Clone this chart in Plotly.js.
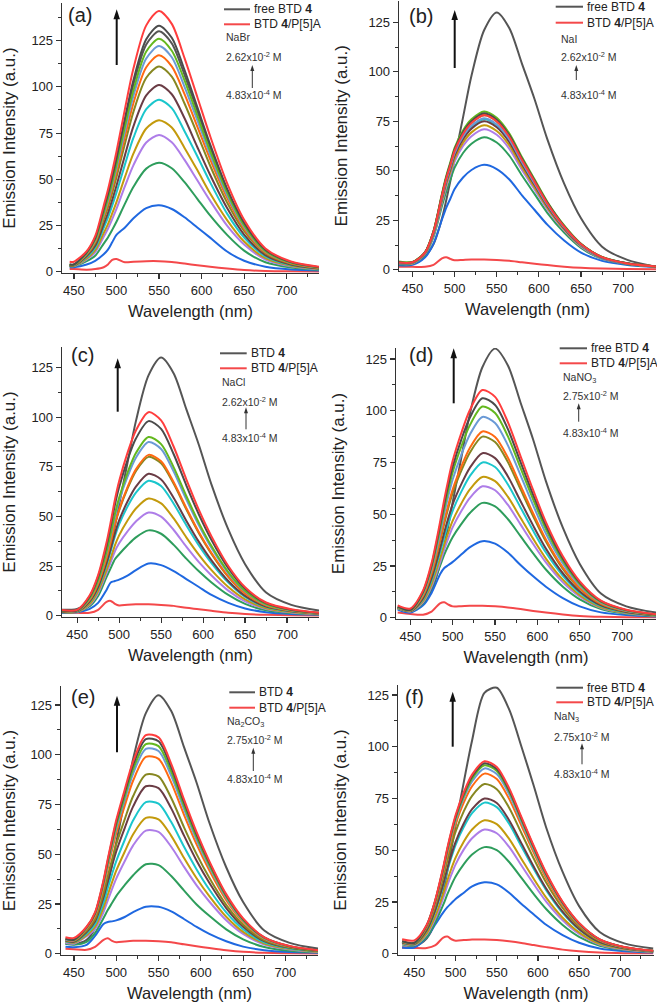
<!DOCTYPE html>
<html><head><meta charset="utf-8">
<script src="https://cdn.plot.ly/plotly-3.0.1.min.js"></script>
<style>html,body{margin:0;padding:0;background:#fff}#chart{width:657px;height:1003px}</style>
</head><body><div id="chart"></div>
<script>
// ---------------- DATA ----------------
// wavelength grids (nm)
const wlA = [445,450,465,475,485,490,495,500,510,520,535,550,565,580,595,610,630,650,675,705,740];
const wlB = [430,450,465,475,485,490,495,500,510,520,535,550,565,580,595,610,630,650,675,705,740];
const wlC = [430,450,465,475,485,490,495,500,510,520,535,550,565,580,595,610,630,650,675,705,740];
const wlD = [435,450,465,475,485,490,495,500,510,520,535,550,565,580,595,610,630,650,675,705,740];
const wlE = [440,450,465,475,485,490,495,500,510,520,535,550,565,580,595,610,630,650,675,705,740];
const wlF = [435,450,465,475,485,490,495,500,510,520,535,550,565,580,595,610,630,650,675,705,740];

// (a) NaBr
const a_p5a   = [1.5,1.5,1.2,1.5,2.5,4,6.5,7,5.2,5.5,5.8,5.8,5.3,4.5,3.6,2.8,1.8,1,0.5,0.3,0.2];
const a_blue  = [2.5,2.5,4,6,9.5,12,16,20,24,29,34.5,36,34,29.5,24,18.5,11,6,2.8,1.3,0.7];
const a_green = [3,3,5.8,8.7,15.3,18.6,22.7,27.1,36.9,46,55.8,59,56,48.5,39.5,30.5,20,11.5,5.2,2.4,1.1];
const a_purple= [3.2,3.2,6.8,10.6,19,23.3,28.5,34,46.3,57.7,69.9,74,70,60.5,49.5,38.5,25,14.8,6.7,3,1.3];
const a_gold  = [3.3,3.3,7.3,11.7,21,25.8,31.6,37.7,51.3,64,77.5,82,78,67,55,42.5,28,16.4,7.4,3.3,1.5];
const a_cyan  = [3.4,3.4,8,13.1,23.8,29.3,35.8,42.8,58.1,72.5,87.9,93,88.5,76,62.5,48.5,31.5,18.6,8.4,3.7,1.7];
const a_brown = [3.5,3.5,8.6,14.1,25.8,31.8,38.9,46.5,63.1,78.8,95.4,101,96,83,67.5,52.5,34.5,20.2,9.1,4,1.8];
const a_olive = [3.6,3.6,9.2,15.4,28.3,35,42.7,51.1,69.4,86.6,104.9,111,105.5,91,74.5,57.5,37.5,22.2,10,4.4,2];
const a_orange= [3.7,3.7,9.6,16.2,29.8,36.9,45,53.8,73.1,91.3,110.6,117,111,96,78.5,61,40,23.4,10.5,4.7,2.1];
const a_lblue = [3.8,3.8,9.9,16.9,31,38.4,47,56.1,76.3,95.2,115.3,122,116,100,82,63.5,41.5,24.4,11,4.9,2.2];
const a_lime  = [3.9,3.9,10.2,17.4,32,39.7,48.5,58,78.8,98.3,119.1,126,119.5,103.5,84.5,65.5,43,25.2,11.3,5,2.3];
const a_dgray = [4,4,10.6,18.3,33.8,41.9,51.2,61.2,83.1,103.7,125.7,133,126.5,109,89,69,45,26.6,12,5.3,2.4];
const a_red   = [5.5,5.5,11.2,19.3,35.8,44.4,54.3,64.9,88.1,110,133.2,141,134,115.5,94.5,73.5,48,28.2,12.7,5.6,2.6];
const a_free  = [4,4,10.5,17.9,33,41,50,59.8,81.3,101.4,122.9,130,123.5,106.5,87,67.5,44,26,11.7,5.2,2.4];

// (b) NaI
const b_p5a   = [1.5,1.5,1.5,2.5,5.8,6.4,5.5,4.8,5,5.2,5.2,5,4.6,3.8,3.1,2.4,1.6,1,0.6,0.4,0.3];
const b_blue  = [2.5,2.5,6.3,13.2,25.4,31.3,36,40.8,46.6,50.4,53,50.9,45.6,37.6,30.2,22.8,14.8,8.7,4.5,2.4,1.3];
const b_green = [3,3,7.7,16.6,32.2,39.5,45.6,51.6,59,63.7,67,64.3,57.6,47.6,38.2,28.8,18.8,11.1,5.5,2.8,1.5];
const b_purple= [3.2,3.2,8.1,17.5,34.1,41.9,48.3,54.7,62.5,67.5,71,68.2,61.1,50.4,40.5,30.5,19.9,11.7,5.8,3,1.6];
const b_gold  = [3.3,3.3,8.3,18,35,43.1,49.6,56.2,64.2,69.4,73,70.1,62.8,51.8,41.6,31.4,20.4,12,6,3.1,1.6];
const b_cyan  = [3.5,3.5,8.6,18.7,36.5,44.8,51.7,58.5,66.9,72.2,76,73,65.4,54,43.3,32.7,21.3,12.5,6.2,3.2,1.6];
const b_brown = [3.5,3.5,8.5,18.5,36,44.3,51,57.8,66,71.3,75,72,64.5,53.3,42.8,32.3,21,12.4,6.1,3.1,1.6];
const b_olive = [3.8,3.8,8.8,19.2,37.4,46,53,60,68.6,74.1,78,74.9,67.1,55.4,44.5,33.5,21.8,12.9,6.4,3.2,1.7];
const b_orange= [3.8,3.8,8.9,19.3,37.7,46.3,53.4,60.4,69.1,74.6,78.5,75.4,67.5,55.7,44.7,33.8,22,13,6.4,3.2,1.7];
const b_lblue = [3.6,3.6,8.7,18.9,36.7,45.1,52,58.9,67.3,72.7,76.5,73.4,65.8,54.3,43.6,32.9,21.4,12.6,6.2,3.2,1.6];
const b_lime  = [4.5,4,9,19.7,38.4,47.2,54.4,61.6,70.4,76,80,76.8,68.8,56.8,45.6,34.4,22.4,13.2,6.5,3.3,1.7];
const b_dgray = [4,3.8,8.9,19.5,37.9,46.6,53.7,60.8,69.5,75,79,75.8,67.9,56.1,45,34,22.1,13,6.4,3.3,1.7];
const b_red   = [3.8,3.8,8.8,19.2,37.4,46,53,60.1,68.6,74.1,78,74.9,67.1,55.4,44.5,33.5,21.8,12.9,6.4,3.2,1.7];
const b_free  = [3.5,3.8,7,13,26,35,45,56,77,98,121,130,122,104,86,66,43.5,26,11.7,5,1.5];

// (c) NaCl
const c_p5a   = [1.7,1.5,1.5,3,7,7.5,6,5.2,5.6,5.8,5.8,5.5,5,4,3.3,2.5,1.5,0.9,0.5,0.3,0.2];
const c_blue  = [1.5,1.8,3.5,6.5,13,16.8,17.5,18.2,20.2,23,26.3,25.5,22.5,18.5,14.5,10.5,6.5,3.7,1.8,0.9,0.5];
const c_green = [1.8,2,4.8,10,19.5,24,28.5,31,35.5,39.5,43,41.3,35.7,28.8,22.4,16.8,10.5,6,2.8,1.4,0.6];
const c_purple= [2,2,5.5,11.5,21.5,27,32.5,36.5,42.5,47.5,52,49.9,43.2,34.8,27,20.3,12.7,7.3,3.4,1.7,0.7];
const c_gold  = [2,2,6,12.5,23,29,35.5,40.5,48,54,59,56.6,49,39.5,30.7,23,14.5,8.3,3.8,1.9,0.8];
const c_cyan  = [2.2,2.2,7,14,25.5,32.5,40,46,55,62,68,65.3,56.4,45.6,35.4,26.5,16.7,9.5,4.4,2.2,1];
const c_brown = [2.3,2.3,7.3,14.5,26.5,33.8,41.5,48,57.5,65,71.5,68.6,59.3,47.9,37.2,27.9,17.5,10,4.6,2.3,1];
const c_olive = [2.5,2.5,8,16,29,37,46,53,64,72.8,80,76.8,66.4,53.6,41.6,31.2,19.6,11.2,5.2,2.6,1.1];
const c_orange= [2.5,2.5,8.1,16.2,29.2,37.3,46.2,53.5,64.8,73.7,81,77.8,67.2,54.3,42.1,31.6,19.8,11.3,5.3,2.6,1.1];
const c_lblue = [2.6,2.6,8.8,17.5,31.5,40.3,49.9,57.8,70,79.6,87.5,84,72.6,58.6,45.5,34.1,21.4,12.3,5.7,2.8,1.2];
const c_lime  = [2.7,2.7,9,18,32.4,41.4,51.3,59.4,72,81.9,90,86.4,74.7,60.3,46.8,35.1,22,12.6,5.9,2.9,1.3];
const c_dgray = [2.8,2.8,9.8,19.6,35.3,45.1,55.9,64.7,78.4,89.2,98,94.1,81.3,65.7,51,38.2,24,13.7,6.4,3.1,1.4];
const c_red   = [3,3,10.3,20.5,36.9,47.2,58.4,67.7,82,93.3,102.5,98.4,85.1,68.7,53.3,40,25.1,14.4,6.7,3.3,1.4];
const c_free  = [3,3.5,7,13,26,35,45,56,77,98,121,130,122,104,86,66,43.5,26,11.7,5.5,2.5];

// (d) NaNO3
const d_p5a   = [2.5,1.8,1.5,3,7,7.5,6.3,5.5,5.6,5.8,5.8,5.5,5,4.2,3.3,2.5,1.6,0.9,0.5,0.3,0.2];
const d_blue  = [4,2.5,6,12,21,24,25.5,27,30.5,34,37,35.8,31.5,25.5,20,15,9.5,5.5,2.6,1.3,0.6];
const d_green = [4.5,3,7,14.5,25,30.5,35,39,45.2,50.5,55.5,53.8,47.7,39.4,31.1,23.3,15,8.9,4.2,1.9,0.8];
const d_purple= [4.5,3,7.6,15.2,26.7,33,38.7,43.8,51.4,57.8,63.5,61.6,54.6,45.1,35.6,26.7,17.1,10.2,4.8,2.2,1];
const d_gold  = [4.7,3.2,8.2,16.3,28.6,35.4,41.5,46.9,55.1,61.9,68,66,58.5,48.3,38.1,28.6,18.4,10.9,5.1,2.4,1];
const d_cyan  = [4.8,3.3,9,18,31.5,39,45.8,51.8,60.8,68.3,75,72.8,64.5,53.3,42,31.5,20.3,12,5.6,2.6,1.1];
const d_brown = [4.9,3.3,9.5,19.1,33.4,41.3,48.5,54.9,64.4,72.3,79.5,77.1,68.4,56.4,44.5,33.4,21.5,12.7,6,2.8,1.2];
const d_olive = [5,3.4,10.5,21,36.8,45.5,53.4,60.4,70.9,79.6,87.5,84.9,75.3,62.1,49,36.8,23.6,14,6.6,3.1,1.3];
const d_orange= [5,3.5,10.8,21.6,37.8,46.8,54.9,62.1,72.9,81.9,90,87.3,77.4,63.9,50.4,37.8,24.3,14.4,6.8,3.2,1.4];
const d_lblue = [5.2,3.6,11.6,23.3,40.7,50.4,59.2,66.9,78.6,88.3,97,94.1,83.4,68.9,54.3,40.7,26.2,15.5,7.3,3.4,1.5];
const d_lime  = [5.3,3.7,12.2,24.5,42.8,53,62.2,70.4,82.6,92.8,102,98.9,87.7,72.4,57.1,42.8,27.5,16.3,7.7,3.6,1.5];
const d_dgray = [5.4,3.8,12.7,25.4,44.5,55.1,64.7,73.1,85.9,96.5,106,102.8,91.2,75.3,59.4,44.5,28.6,17,8,3.7,1.6];
const d_red   = [6,4.5,13.2,26.4,46.2,57.2,67.1,75.9,89.1,100.1,110,106.7,94.6,78.1,61.6,46.2,29.7,17.6,8.3,3.9,1.7];
const d_free  = [4.5,3.5,7,13,26,35,45,56,77,98,121,130,122,104,86,66,43.5,26,11.7,5.5,2.5];

// (e) Na2CO3
const e_p5a   = [2.5,2.3,2,3.5,7,7.8,6.5,5.8,6.2,6.5,6.5,6.3,5.8,4.8,3.8,2.9,1.8,1,0.5,0.3,0.2];
const e_blue  = [3.5,3.3,4.5,9,15,16,16.3,16.8,18.5,21,23.7,23.6,21.3,17.5,13.5,10,6.3,3.6,1.8,0.9,0.5];
const e_green = [5,4.6,6,10.5,18,22,25.5,29,34.5,39.5,45,44.6,39.1,31.9,24.8,19.1,12.3,7.3,3.4,1.5,0.7];
const e_purple= [5.5,5.1,8.8,12.5,21,26.9,32.5,37.8,46.5,54.5,61.9,61.3,53.8,43.8,34.4,26.3,16.9,10,4.7,2.2,0.9];
const e_gold  = [6,5.6,9.4,13.6,23.2,29.7,35.9,41.8,51.3,60.1,68.3,67.6,59.3,48.3,38,29,18.6,11,5.2,2.4,1];
const e_cyan  = [6.3,5.9,10.2,15,25.9,33.1,40,46.6,57.2,67.1,76.2,75.5,66.2,53.9,42.4,32.3,20.8,12.3,5.8,2.7,1.2];
const e_brown = [6.5,6.1,11,16.4,28.6,36.6,44.2,51.5,63.2,74.1,84.2,83.3,73.1,59.5,46.8,35.7,23,13.6,6.4,3,1.3];
const e_olive = [6.8,6.4,11.6,17.4,30.5,39.1,47.3,55.1,67.6,79.3,90.1,89.2,78.3,63.7,50.1,38.2,24.6,14.6,6.8,3.2,1.4];
const e_orange= [7,6.6,12.5,19,33.5,43,52,60.6,74.3,87.1,99,98,86,70,55,42,27,16,7.5,3.5,1.5];
const e_lblue = [7.2,6.8,12.9,19.7,34.8,44.7,54.1,63,77.3,90.6,103,101.9,89.4,72.8,57.2,43.7,28.1,16.6,7.8,3.6,1.6];
const e_lime  = [7.5,7,13.2,20.1,35.6,45.8,55.4,64.5,79.1,92.8,105.4,104.4,91.6,74.6,58.6,44.7,28.8,17,8,3.7,1.6];
const e_dgray = [7.6,7.1,13.4,20.5,36.5,46.9,56.7,66,81,95,107.9,106.8,93.7,76.3,60,45.8,29.4,17.4,8.2,3.8,1.6];
const e_red   = [8.3,8,13.6,20.9,37.1,47.7,57.7,67.2,82.5,96.7,109.9,108.8,95.5,77.7,61.1,46.6,30,17.8,8.3,3.9,1.7];
const e_free  = [5,4.8,7,13,26,35,45,56,77,98,121,130,122,104,86,66,43.5,26,11.7,5.5,2.5];

// (f) NaN3
const f_p5a   = [3,2.8,2.8,4,7.8,8.3,7,6.3,6.6,6.9,6.9,6.6,6,5.2,4.2,3.2,2,1.2,0.6,0.3,0.2];
const f_blue  = [3,3,8,14,20,22.5,24.5,26.5,29.5,32.5,34.5,33.5,29.5,24,19,14,9,5.3,2.5,1.2,0.6];
const f_green = [4.5,4,8.2,14.9,23.7,28.8,33.3,37.3,43.3,47.9,51.5,50,44.3,36.6,28.8,21.6,13.9,8.2,3.9,1.8,0.8];
const f_purple= [4.8,4.2,9.4,16.7,27,33,38.4,43.2,50.4,55.8,60,58.2,51.6,42.6,33.6,25.2,16.2,9.6,4.5,2.1,0.9];
const f_gold  = [5,4.4,10,17.9,29,35.5,41.3,46.4,54.2,60,64.5,62.6,55.5,45.8,36.1,27.1,17.4,10.3,4.8,2.3,1];
const f_cyan  = [5.3,4.6,11.2,20.2,32.9,40.2,46.7,52.6,61.3,67.9,73,70.8,62.8,51.8,40.9,30.7,19.7,11.7,5.5,2.6,1.1];
const f_brown = [5.4,4.7,11.5,20.8,33.8,41.3,48,54,63,69.8,75,72.8,64.5,53.3,42,31.5,20.3,12,5.6,2.6,1.1];
const f_olive = [5.6,4.9,12.5,22.6,36.9,45.1,52.5,59,68.9,76.3,82,79.5,70.5,58.2,45.9,34.4,22.1,13.1,6.2,2.9,1.2];
const f_orange= [5.8,5.1,13.2,24,39.2,47.9,55.7,62.6,73.1,80.9,87,84.4,74.8,61.8,48.7,36.5,23.5,13.9,6.5,3,1.3];
const f_lblue = [5.9,5.2,13.5,24.7,40.3,49.2,57.3,64.4,75.2,83.2,89.5,86.8,77,63.5,50.1,37.6,24.2,14.3,6.7,3.1,1.3];
const f_lime  = [6,5.3,13.7,25.1,41,50,58.2,65.5,76.4,84.6,91,88.3,78.3,64.6,51,38.2,24.6,14.6,6.8,3.2,1.4];
const f_dgray = [6,5.3,13.9,25.3,41.4,50.6,58.9,66.2,77.3,85.6,92,89.2,79.1,65.3,51.5,38.6,24.8,14.7,6.9,3.2,1.4];
const f_red   = [7,6.5,14,25.6,41.9,51.2,59.5,67,78.1,86.5,93,90.2,80,66,52.1,39.1,25.1,14.9,7,3.3,1.4];
const f_free  = [3,3.5,7.5,15,30,40,51,62,83,103,126,128.5,118,100,81,61,39.5,23,10.5,5,2.5];

// texts
const panelLabels = ['(a)','(b)','(c)','(d)','(e)','(f)'];
const saltNames = ['NaBr','NaI','NaCl','NaNO<sub>3</sub>','Na<sub>2</sub>CO<sub>3</sub>','NaN<sub>3</sub>'];
const highConc = ['2.62x10<sup>-2</sup> M','2.62x10<sup>-2</sup> M','2.62x10<sup>-2</sup> M','2.75x10<sup>-2</sup> M','2.75x10<sup>-2</sup> M','2.75x10<sup>-2</sup> M'];
const lowConc = '4.83x10<sup>-4</sup> M';
const freeNames = ['free BTD <b>4</b>','free BTD <b>4</b>','BTD <b>4</b>','free BTD <b>4</b>','BTD <b>4</b>','free BTD <b>4</b>'];
const complexName = 'BTD <b>4</b>/P[5]A';
const xTicks = [450,500,550,600,650,700];
const yTicks = [0,25,50,75,100,125];

// ---------------- STYLE / LAYOUT ----------------
const FONT = 'Liberation Sans, Arial, Helvetica, sans-serif';
const COLORS = {p5a:'#F4484A', blue:'#1F68E0', green:'#2E9D5C', purple:'#AE7DE8', gold:'#C39A0C',
  cyan:'#1BC6CC', brown:'#6A3C45', olive:'#878721', orange:'#FF6912', lblue:'#6B9AD6',
  lime:'#63B81E', dgray:'#4B4B4B', red:'#FF3D3D', free:'#555555'};
const ORDER = ['free','p5a','blue','green','purple','gold','cyan','brown','olive','orange','lblue','lime','dgray','red'];

const seriesSets = [
 {wl:wlA, p5a:a_p5a, blue:a_blue, green:a_green, purple:a_purple, gold:a_gold, cyan:a_cyan, brown:a_brown, olive:a_olive, orange:a_orange, lblue:a_lblue, lime:a_lime, dgray:a_dgray, red:a_red, free:a_free},
 {wl:wlB, p5a:b_p5a, blue:b_blue, green:b_green, purple:b_purple, gold:b_gold, cyan:b_cyan, brown:b_brown, olive:b_olive, orange:b_orange, lblue:b_lblue, lime:b_lime, dgray:b_dgray, red:b_red, free:b_free},
 {wl:wlC, p5a:c_p5a, blue:c_blue, green:c_green, purple:c_purple, gold:c_gold, cyan:c_cyan, brown:c_brown, olive:c_olive, orange:c_orange, lblue:c_lblue, lime:c_lime, dgray:c_dgray, red:c_red, free:c_free},
 {wl:wlD, p5a:d_p5a, blue:d_blue, green:d_green, purple:d_purple, gold:d_gold, cyan:d_cyan, brown:d_brown, olive:d_olive, orange:d_orange, lblue:d_lblue, lime:d_lime, dgray:d_dgray, red:d_red, free:d_free},
 {wl:wlE, p5a:e_p5a, blue:e_blue, green:e_green, purple:e_purple, gold:e_gold, cyan:e_cyan, brown:e_brown, olive:e_olive, orange:e_orange, lblue:e_lblue, lime:e_lime, dgray:e_dgray, red:e_red, free:e_free},
 {wl:wlF, p5a:f_p5a, blue:f_blue, green:f_green, purple:f_purple, gold:f_gold, cyan:f_cyan, brown:f_brown, olive:f_olive, orange:f_orange, lblue:f_lblue, lime:f_lime, dgray:f_dgray, red:f_red, free:f_free}
];

// pixel geometry of each panel
const W = 657, H = 1003;
const fx = p => p / W, fy = p => 1 - p / H;
const geom = [
 {x0:62, x1:319, y0:3,   y1:273, xr:[436,738], yr:[-0.6,145.3], so:11, lab:[80,15],  arr:[116.7,65,9.3],  leg:[224,250,9.3,24.3],   txt:[224,37.3,56,94.3],   sarr:[252.3,88,65]},
 {x0:399,x1:656, y0:0.5, y1:271, xr:[434,739], yr:[-0.6,136],   so:16, lab:[420.7,16], arr:[454.7,68,10], leg:[555.7,583,6.7,22.7], txt:[558.7,39.3,56.7,94.3], sarr:[576.3,80,65]},
 {x0:62, x1:319, y0:347, y1:617, xr:[432,738], yr:[-0.6,135.3], so:11, lab:[82.7,355], arr:[117.7,411.7,358.3], leg:[220,246.7,353.3,368.3], txt:[220,381.7,401,437.7], sarr:[246,429.3,407.3]},
 {x0:396,x1:656, y0:348, y1:619, xr:[433,740], yr:[-0.6,130.3], so:16, lab:[421.3,355], arr:[453.7,403.3,348.3], leg:[559.7,587,348.3,363.3], txt:[561.3,377.7,395,432.7], sarr:[578.7,421.7,403.3]},
 {x0:61, x1:318, y0:686, y1:955, xr:[434.7,738.5], yr:[-0.6,134.6], so:11, lab:[83.3,696.7], arr:[117,752.3,695.7], leg:[229.3,255,692.3,707.7], txt:[225,721.7,739.3,778.3], sarr:[253.3,771,747.7]},
 {x0:398,x1:654, y0:685, y1:955, xr:[430,741], yr:[-0.6,129.8], so:16, lab:[414,696.7], arr:[452.7,746.7,691.7], leg:[556.3,583,687.7,702.3], txt:[552,717.3,736.7,773.3], sarr:[582,764.3,743.3]}
];

const traces = [];
const layout = {
  width: W, height: H, margin:{l:0,r:0,t:0,b:0},
  paper_bgcolor:'#fff', plot_bgcolor:'#fff', showlegend:false,
  font:{family:FONT, color:'#222'},
  shapes:[], annotations:[]
};

// vertical arrow drawn as a shaft line plus a filled triangular head (pixel positions)
function addArrow(x, yTail, yHead, width, headW, headL, color) {
  layout.shapes.push({type:'line', xref:'paper', yref:'paper', x0:fx(x), x1:fx(x), y0:fy(yTail), y1:fy(yHead + headL - 1),
    line:{color:color, width:width}});
  layout.shapes.push({type:'path', xref:'paper', yref:'paper',
    path:'M ' + fx(x - headW / 2) + ',' + fy(yHead + headL) + ' L ' + fx(x) + ',' + fy(yHead) + ' L ' + fx(x + headW / 2) + ',' + fy(yHead + headL) + ' Z',
    fillcolor:color, line:{width:0}});
}

geom.forEach((g, i) => {
  const s = i === 0 ? '' : String(i + 1);
  const set = seriesSets[i];
  ORDER.forEach(k => {
    traces.push({
      x: set.wl, y: set[k], type:'scatter', mode:'lines',
      name: k === 'free' ? freeNames[i].replace(/<\/?b>/g,'') : (k === 'p5a' ? 'BTD 4/P[5]A' : k),
      line:{color: COLORS[k], width: 2, shape:'spline', smoothing:0.8},
      xaxis:'x' + s, yaxis:'y' + s, hoverinfo:'skip', showlegend:false
    });
  });
  const axCommon = {showline:true, linecolor:'#333', linewidth:1.3, mirror:false, showgrid:false, zeroline:false,
    ticks:'outside', ticklen:5, tickwidth:1.2, tickcolor:'#333', tickfont:{family:FONT, size:13, color:'#222'}};
  layout['xaxis' + s] = Object.assign({}, axCommon, {
    domain:[fx(g.x0), fx(g.x1)], anchor:'y' + s, range:g.xr, tickmode:'array', tickvals:xTicks,
    minor:{ticks:'outside', ticklen:3, tickwidth:1, tickcolor:'#333', tickmode:'linear', tick0:0, dtick:25},
    title:{text:'Wavelength (nm)', font:{family:FONT, size:16.5, color:'#222'}, standoff:8}
  });
  layout['yaxis' + s] = Object.assign({}, axCommon, {
    domain:[fy(g.y1), fy(g.y0)], anchor:'x' + s, range:g.yr, tickmode:'array', tickvals:yTicks,
    minor:{ticks:'outside', ticklen:3, tickwidth:1, tickcolor:'#333', tickmode:'linear', tick0:0, dtick:12.5},
    title:{text:'Emission Intensity (a.u.)', font:{family:FONT, size:17, color:'#222'}, standoff:g.so}
  });
  // panel label
  layout.annotations.push({xref:'paper', yref:'paper', x:fx(g.lab[0]), y:fy(g.lab[1]), text:panelLabels[i],
    showarrow:false, xanchor:'center', yanchor:'middle', font:{family:FONT, size:20, color:'#222'}});
  // big arrow
  addArrow(g.arr[0], g.arr[1], g.arr[2], 2, 6.5, 10, '#111');
  // legend samples
  layout.shapes.push({type:'line', xref:'paper', yref:'paper', x0:fx(g.leg[0]), x1:fx(g.leg[1]), y0:fy(g.leg[2]), y1:fy(g.leg[2]), line:{color:COLORS.free, width:2}});
  layout.shapes.push({type:'line', xref:'paper', yref:'paper', x0:fx(g.leg[0]), x1:fx(g.leg[1]), y0:fy(g.leg[3]), y1:fy(g.leg[3]), line:{color:COLORS.p5a, width:2}});
  layout.annotations.push({xref:'paper', yref:'paper', x:fx(g.leg[1] + 2), y:fy(g.leg[2]), text:freeNames[i],
    showarrow:false, xanchor:'left', yanchor:'middle', font:{family:FONT, size:12, color:'#222'}});
  layout.annotations.push({xref:'paper', yref:'paper', x:fx(g.leg[1] + 2), y:fy(g.leg[3]), text:complexName,
    showarrow:false, xanchor:'left', yanchor:'middle', font:{family:FONT, size:12, color:'#222'}});
  // salt and concentration notes
  const small = {family:FONT, size:10.5, color:'#333'};
  layout.annotations.push({xref:'paper', yref:'paper', x:fx(g.txt[0]), y:fy(g.txt[1]), text:saltNames[i], showarrow:false, xanchor:'left', yanchor:'middle', font:small});
  layout.annotations.push({xref:'paper', yref:'paper', x:fx(g.txt[0]), y:fy(g.txt[2]), text:highConc[i], showarrow:false, xanchor:'left', yanchor:'middle', font:small});
  layout.annotations.push({xref:'paper', yref:'paper', x:fx(g.txt[0]), y:fy(g.txt[3]), text:lowConc, showarrow:false, xanchor:'left', yanchor:'middle', font:small});
  addArrow(g.sarr[0], g.sarr[1], g.sarr[2], 1, 4, 6, '#333');
});

Plotly.newPlot('chart', traces, layout, {displayModeBar:false, staticPlot:true});
</script>
</body></html>
